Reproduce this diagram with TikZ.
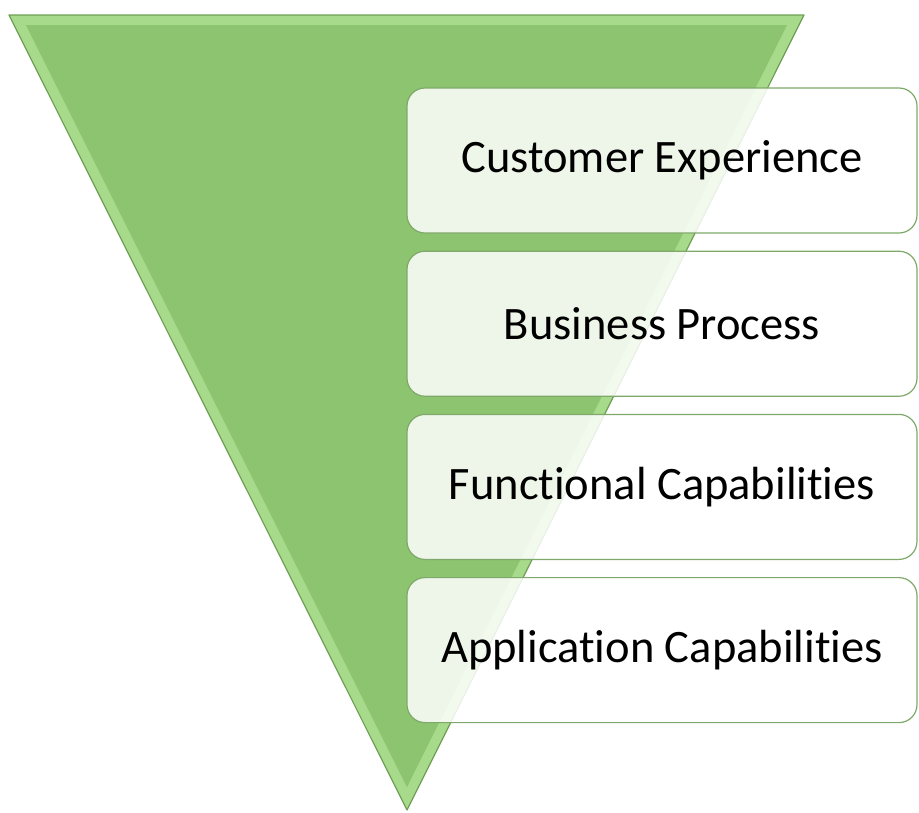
\documentclass[tikz,border=0pt]{standalone}
\usepackage{fontspec}
\setmainfont{Carlito}[Ligatures=NoCommon]
\usetikzlibrary{positioning}
\definecolor{funnelgreen}{HTML}{8DC46F}
\definecolor{funnelbevel}{HTML}{A8DA8B}
\definecolor{funneledge}{HTML}{6E9F55}
\definecolor{layeredge}{HTML}{7FA96A}

\begin{document}
\begin{tikzpicture}[
		x=1pt, y=-1pt,
		layer/.style={draw=layeredge, line width=1.2pt, rounded corners=18pt,
				fill=white, fill opacity=0.85, text opacity=1,
				minimum width=510pt, minimum height=145pt, inner sep=0pt,
				font=\fontsize{46.5}{50}\selectfont},
		node distance=17pt
	]
	\useasboundingbox (0,0) rectangle (919,812);

	% funnel
	\coordinate (tl) at (9,15);
	\coordinate (tr) at (804,15);
	\coordinate (tip) at (407,810);
	\fill[funnelbevel] (tl) -- (tr) -- (tip) -- cycle;
	\fill[funnelgreen] (26,25) -- (787,25) -- (407,787) -- cycle;
	\draw[funneledge, line width=1.2pt, line join=round] (tl) -- (tr) -- (tip) -- cycle;

	% layers
	\node[layer] (cx) at (662,160.5) {Customer Experience};
	\node[layer, below=of cx] (bp) {Business Process};
	\node[layer, below=of bp] (fc) {Functional Capabilities};
	\node[layer, below=of fc] (ac) {Application Capabilities};

\end{tikzpicture}
\end{document}
